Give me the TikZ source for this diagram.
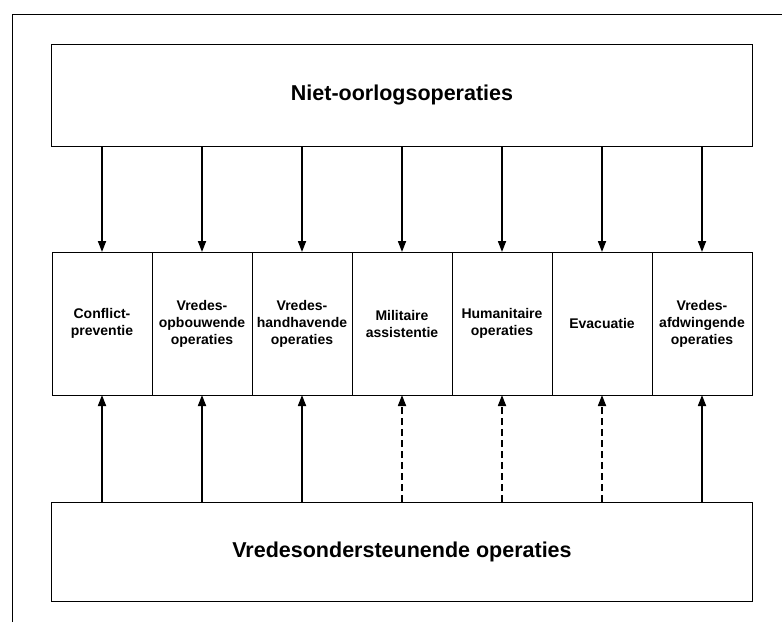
\documentclass[tikz,border=0pt]{standalone}
\usepackage{fontspec}
\setmainfont{Liberation Sans}
\usepackage{tikz}
\usetikzlibrary{positioning,calc,arrows.meta}

\tikzset{
	opbox/.style={draw=black,line width=0.9pt,outer sep=0pt,minimum width=100pt,minimum height=143pt,align=center,font=\fontsize{14}{17}\selectfont\bfseries},
	bigbox/.style={draw=black,line width=0.9pt,outer sep=0pt,minimum width=701pt,font=\fontsize{21.5}{25}\selectfont\bfseries},
	pijl/.style={-{Triangle[length=11pt,width=8pt]},line width=1.7pt},
}

\begin{document}
\begin{tikzpicture}
		\useasboundingbox (0,0) rectangle (782pt,-622pt);
		\draw[line width=0.9pt] (12pt,-622pt)--(12pt,-14pt)--(782pt,-14pt);
		
		\node[opbox,anchor=north west] (m1) at (52pt,-252pt) {Conflict-\\preventie};
		\node[opbox,right=0pt of m1] (m2) {Vredes-\\opbouwende\\operaties};
		\node[opbox,right=0pt of m2] (m3) {Vredes-\\handhavende\\operaties};
		\node[opbox,right=0pt of m3] (m4) {Militaire\\assistentie};
		\node[opbox,right=0pt of m4] (m5) {Humanitaire\\operaties};
		\node[opbox,right=0pt of m5] (m6) {Evacuatie};
		\node[opbox,right=0pt of m6] (m7) {Vredes-\\afdwingende\\operaties};
		
		\node[bigbox,minimum height=102pt,above=106pt of m4] (nietoorlog) {Niet-oorlogsoperaties};
		\node[bigbox,minimum height=99pt,below=107pt of m4] (vredesonder) {Vredesondersteunende operaties};
		
		\foreach \i in {1,...,7}{
			\draw[pijl] (nietoorlog.south -| m\i) -- (m\i.north);
		}
		\foreach \i in {1,2,3,7}{
			\draw[pijl] (vredesonder.north -| m\i) -- (m\i.south);
		}
		\foreach \i in {4,5,6}{
			\draw[pijl,dash pattern=on 7pt off 4pt] (vredesonder.north -| m\i) -- (m\i.south);
		}
	\end{tikzpicture}
\end{document}
